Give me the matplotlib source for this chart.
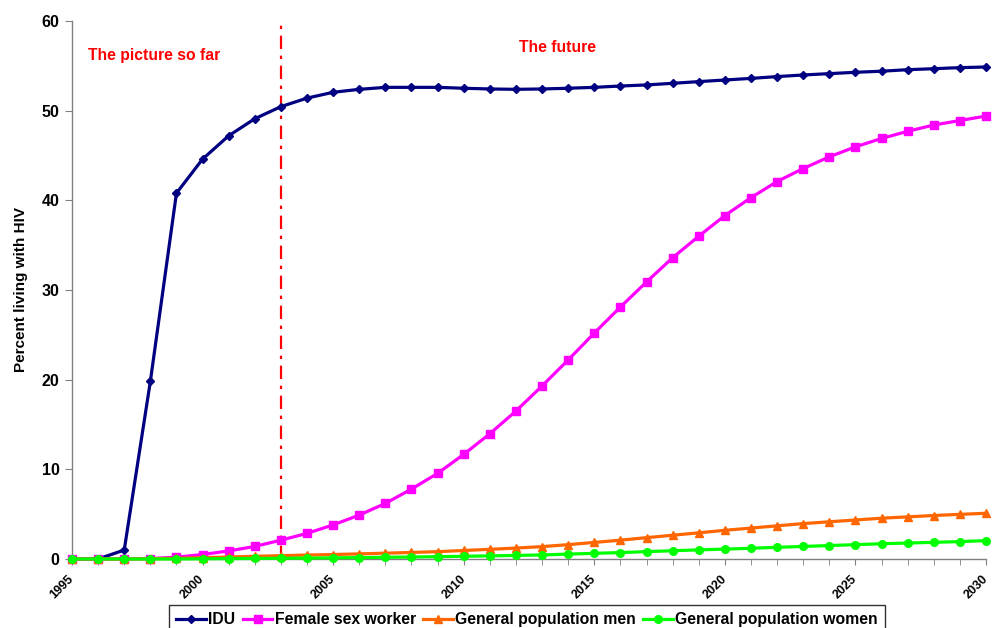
import matplotlib
matplotlib.use('Agg')
import matplotlib.pyplot as pl
import matplotlib.transforms as mtransforms
import numpy as np

pl.rcParams['font.family'] = ['Liberation Sans', 'DejaVu Sans']
pl.rcParams['font.weight'] = 'bold'

years = np.arange(1995, 2031)

idu = [0.0, 0.0, 1.0, 19.8, 40.8, 44.6, 47.2, 49.1, 50.45, 51.4,
       52.05, 52.38, 52.6, 52.6, 52.6, 52.5, 52.42, 52.38, 52.42, 52.5,
       52.6, 52.75, 52.87, 53.05, 53.24, 53.42, 53.6, 53.8, 53.98, 54.13,
       54.28, 54.4, 54.57, 54.68, 54.8, 54.87]
fsw = [0.0, 0.0, 0.0, 0.05, 0.2, 0.5, 0.9, 1.4, 2.1, 2.86,
       3.8, 4.9, 6.2, 7.8, 9.55, 11.67, 13.97, 16.5, 19.3, 22.2,
       25.2, 28.1, 30.9, 33.6, 36.0, 38.3, 40.3, 42.1, 43.55, 44.85,
       45.97, 46.9, 47.7, 48.4, 48.9, 49.4]
men = [0.0, 0.0, 0.0, 0.02, 0.08, 0.15, 0.22, 0.3, 0.37, 0.44,
       0.5, 0.57, 0.65, 0.73, 0.82, 0.95, 1.08, 1.22, 1.38, 1.6,
       1.85, 2.1, 2.38, 2.65, 2.92, 3.2, 3.45, 3.7, 3.95, 4.15,
       4.35, 4.55, 4.7, 4.85, 4.98, 5.1]
women = [0.0, 0.0, 0.0, 0.0, 0.0, 0.02, 0.04, 0.06, 0.08, 0.1,
         0.13, 0.16, 0.19, 0.22, 0.26, 0.3, 0.35, 0.4, 0.45, 0.55,
         0.63, 0.72, 0.82, 0.92, 1.02, 1.1, 1.2, 1.3, 1.4, 1.5,
         1.6, 1.7, 1.78, 1.86, 1.94, 2.05]

labels = ['IDU', 'Female sex worker', 'General population men',
          'General population women']
split_year = 2003

fig = pl.figure(figsize=(9.93, 6.28), dpi=100)
ax = fig.add_axes([72/993, 1-559/628, 914/993, 538/628])

lw = 2.3
ax.plot(years, idu, color='#000080', marker='D', markersize=4, lw=lw,
        label=labels[0], clip_on=False, zorder=3)
ax.plot(years, fsw, color='#FF00FF', marker='s', markersize=6, lw=lw,
        label=labels[1], clip_on=False, zorder=4)
ax.plot(years, men, color='#FF6600', marker='^', markersize=5.5, lw=lw,
        label=labels[2], clip_on=False, zorder=5)
ax.plot(years, women, color='#00FF00', marker='o', markersize=5.5, lw=lw,
        label=labels[3], clip_on=False, zorder=6)

# boundary between observed and projected years
ax.plot([split_year, split_year], [0, 59.6], color='red', lw=1.6,
        ls=(0, (6, 3, 1.5, 3)), zorder=2)

ax.text(1995.6, 56.1, 'The picture so far', color='red', fontsize=11.3,
        fontweight='bold', va='center')
ax.text(2012.1, 57.0, 'The future', color='red', fontsize=11.3,
        fontweight='bold', va='center')

ax.set_xlim(1995, 2030)
ax.set_ylim(0, 60)
ax.set_yticks(np.arange(0, 61, 10))
ax.set_xticks(np.arange(1995, 2031, 5))
ax.set_xticks(years, minor=True)
ax.set_xticklabels([str(y) for y in range(1995, 2031, 5)], rotation=45,
                   ha='right', va='center', rotation_mode='anchor',
                   fontsize=9, fontweight='bold')
# nudge the slanted year labels a little left and down
shift = mtransforms.ScaledTranslation(-3/100, -3/100, fig.dpi_scale_trans)
for t in ax.get_xticklabels():
    t.set_transform(t.get_transform() + shift)
for t in ax.get_yticklabels():
    t.set_fontsize(11.5)
    t.set_fontweight('bold')

for s in ['top', 'right']:
    ax.spines[s].set_visible(False)
for s in ['left', 'bottom']:
    ax.spines[s].set_color('#808080')
    ax.spines[s].set_linewidth(1.0)
ax.tick_params(axis='y', length=5, color='#808080', pad=4)
ax.tick_params(axis='x', which='both', length=4, color='#808080', pad=9)

ax.set_ylabel('Percent living with HIV', fontsize=11, fontweight='bold',
              labelpad=10)

leg = fig.legend(loc='upper center', bbox_to_anchor=(527/993, 1-605/628),
                 ncol=4, frameon=True, fancybox=False, fontsize=11.3,
                 handlelength=1.9, handletextpad=0.15, columnspacing=0.45,
                 borderpad=0.45, borderaxespad=0)
leg.get_frame().set_edgecolor('black')
leg.get_frame().set_linewidth(1.0)
for t in leg.get_texts():
    t.set_fontweight('bold')

fig.savefig('out.png', dpi=100)
